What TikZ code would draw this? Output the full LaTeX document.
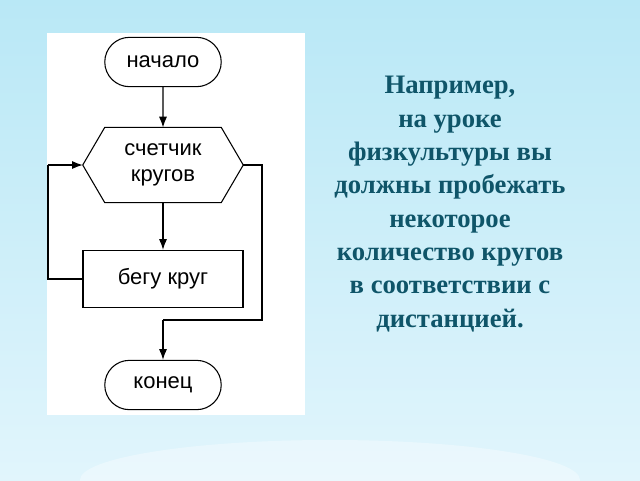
\documentclass[tikz,border=0pt]{standalone}
\usepackage{fontspec}
\setmainfont{Liberation Serif}
\newfontfamily\flowfont{Liberation Sans}
\usetikzlibrary{arrows.meta,shapes.geometric,shapes.misc,calc}
\definecolor{txtc}{RGB}{15,85,105}
\definecolor{bgtop}{RGB}{185,232,246}
\definecolor{bgbot}{RGB}{225,245,252}
\tikzset{
  fl/.style={font=\flowfont\fontsize{16.5}{19}\selectfont},
  term/.style={draw,thick,rounded rectangle,minimum width=94pt,minimum height=37pt,fl},
  proc/.style={draw,thick,rectangle,minimum width=120pt,minimum height=43pt,fl},
  hex/.style={rectangle,minimum width=120pt,minimum height=56pt,inner sep=0pt,align=center,fl},
  line/.style={thick},
  arr/.style={thick,-{Latex[length=8pt,width=6pt]}},
}
\begin{document}
\begin{tikzpicture}[x=0.75pt,y=-0.75pt]
\useasboundingbox (0,0) rectangle (640,480);
\shade[top color=bgtop,bottom color=bgbot] (0,0) rectangle (640,480);
\fill[white,opacity=0.35] (330,480) ellipse (250 and 40);
\fill[white] (47,33) rectangle (305,415);
\node[term] (start) at (163,62) {начало};
\node[hex] (cnt) at (163,165) {счетчик\\кругов};
\draw[thick] (cnt.west) -- ($(cnt.north west)+(22,0)$) -- ($(cnt.north east)+(-22,0)$) -- (cnt.east)
  -- ($(cnt.south east)+(-22,0)$) -- ($(cnt.south west)+(22,0)$) -- cycle;
\node[proc] (run) at (163,279) {бегу круг};
\node[term] (end) at (163,385) {конец};
\coordinate (l1) at (48,279);
\coordinate (l2) at (48,165);
\coordinate (r1) at (262,165);
\coordinate (r2) at (262,320);
\coordinate (r3) at (163,320);
\draw[arr] (start) -- (cnt);
\draw[arr] (cnt) -- (run);
\draw[line] (run.west) -- (l1) -- (l2);
\draw[arr] (l2) -- (cnt.west);
\draw[line] (cnt.east) -- (r1) -- (r2) -- (r3);
\draw[arr] (r3) -- (end.north);
\node[font=\bfseries\fontsize{20}{25}\selectfont,text=txtc,align=center] (txt) at (450,204)
{Например,\\на уроке\\физкультуры вы\\должны пробежать\\некоторое\\количество кругов\\в соответствии с\\дистанцией.};
\end{tikzpicture}
\end{document}
